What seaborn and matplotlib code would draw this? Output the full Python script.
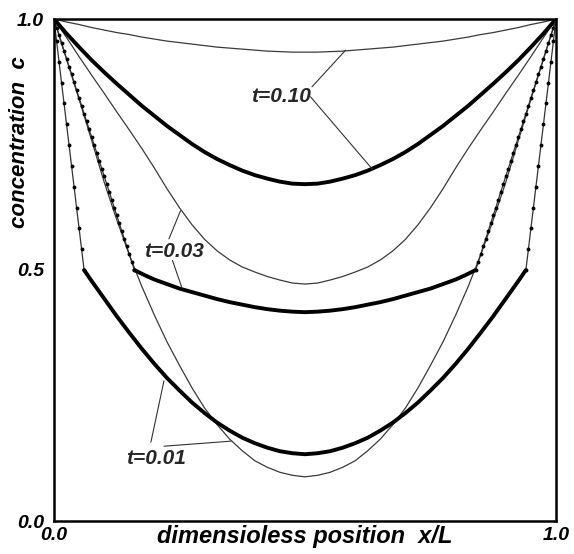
import numpy as np
import matplotlib
matplotlib.use("Agg")
import matplotlib.pyplot as plt
import seaborn as sns

# ---------------- data (left half of symmetric profiles, x/L from 0 to 0.5) -------------
half_x = [0.0, 0.025, 0.05, 0.075, 0.10, 0.125, 0.15, 0.175, 0.20, 0.225, 0.25,
          0.275, 0.30, 0.325, 0.35, 0.375, 0.40, 0.425, 0.45, 0.475, 0.50]

# thin (analytic) curves
thin_t010 = [1.0, 0.994, 0.989, 0.983, 0.978, 0.973, 0.969, 0.964, 0.960, 0.956, 0.953,
             0.950, 0.947, 0.944, 0.942, 0.940, 0.938, 0.936, 0.935, 0.934, 0.934]
thin_t003 = [1.0, 0.963, 0.925, 0.888, 0.852, 0.815, 0.779, 0.742, 0.703, 0.662, 0.624,
             0.590, 0.561, 0.538, 0.520, 0.506, 0.496, 0.487, 0.480, 0.474, 0.472]
thin_t001 = [1.0, 0.920, 0.840, 0.758, 0.675, 0.600, 0.530, 0.467, 0.410, 0.357, 0.310,
             0.265, 0.225, 0.192, 0.163, 0.140, 0.120, 0.107, 0.097, 0.091, 0.088]

# numerical curve t=0.10 (thick)
num_t010 = [1.0, 0.971, 0.944, 0.918, 0.894, 0.871, 0.849, 0.827, 0.807, 0.787, 0.769,
            0.751, 0.735, 0.721, 0.709, 0.698, 0.689, 0.682, 0.676, 0.672, 0.671]

# numerical curve t=0.03 : steep wall part (grid points) and interior part
num_t003_wall_x = [0.0, 0.005, 0.01, 0.015, 0.02, 0.025, 0.03, 0.035, 0.04, 0.045, 0.05,
                   0.055, 0.06, 0.065, 0.07, 0.075, 0.08, 0.085, 0.09, 0.095, 0.10,
                   0.105, 0.11, 0.115, 0.12, 0.125, 0.13, 0.135, 0.14, 0.145, 0.15,
                   0.155, 0.16]
num_t003_wall_c = [1.0, 0.983, 0.968, 0.952, 0.936, 0.921, 0.905, 0.890, 0.874, 0.858, 0.843,
                   0.827, 0.811, 0.796, 0.780, 0.765, 0.749, 0.734, 0.718, 0.702, 0.687,
                   0.671, 0.656, 0.640, 0.624, 0.609, 0.593, 0.578, 0.562, 0.547, 0.531,
                   0.516, 0.500]
num_t003_mid_x = [0.16, 0.18, 0.20, 0.225, 0.25, 0.275, 0.30, 0.325, 0.35, 0.375, 0.40,
                  0.425, 0.45, 0.475, 0.50]
num_t003_mid_c = [0.500, 0.490, 0.481, 0.472, 0.463, 0.456, 0.449, 0.442, 0.436, 0.431,
                  0.426, 0.422, 0.419, 0.417, 0.416]

# numerical curve t=0.01 : steep wall part (grid points) and interior part
num_t001_wall_x = [0.0, 0.005, 0.01, 0.015, 0.02, 0.025, 0.03, 0.035, 0.04, 0.045, 0.05,
                   0.055, 0.06]
num_t001_wall_c = [1.0, 0.957, 0.915, 0.873, 0.832, 0.790, 0.749, 0.707, 0.666, 0.624, 0.583,
                   0.541, 0.500]
num_t001_mid_x = [0.06, 0.075, 0.10, 0.125, 0.15, 0.175, 0.20, 0.225, 0.25, 0.275, 0.30,
                  0.325, 0.35, 0.375, 0.40, 0.425, 0.45, 0.475, 0.50]
num_t001_mid_c = [0.500, 0.478, 0.443, 0.408, 0.375, 0.343, 0.313, 0.285, 0.260, 0.236,
                  0.215, 0.196, 0.180, 0.166, 0.155, 0.146, 0.139, 0.135, 0.133]

y_ticks = [0.0, 0.5, 1.0]
y_tick_labels = ["0.0", "0.5", "1.0"]
x_ticks = [0.0, 1.0]
x_tick_labels = ["0.0", "1.0"]


def full_profile(xs, cs):
    """Symmetric profile: left half as read, right half is its mirror image."""
    x = np.asarray(xs, float)
    c = np.asarray(cs, float)
    return np.concatenate([x, 1.0 - x[::-1][1:]]), np.concatenate([c, c[::-1][1:]])


# ---------------- style ----------------
sns.set_style("white")
plt.rcParams["font.family"] = ["Liberation Sans", "DejaVu Sans"]
plt.rcParams["font.weight"] = "bold"
plt.rcParams["font.style"] = "italic"

fig = plt.figure(figsize=(5.74, 5.54), dpi=100)
ax = fig.add_axes([54 / 574, 33 / 554, 502 / 574, 502 / 554])

THIN = dict(color="#3a3a3a", linewidth=0.9)
THICK = dict(color="black", linewidth=2.8)

# thin analytic curves
for ys in (thin_t010, thin_t003, thin_t001):
    fx, fc = full_profile(half_x, ys)
    sns.lineplot(x=fx, y=fc, ax=ax, sort=False, estimator=None, **THIN)

# numerical t=0.10 (thick)
fx, fc = full_profile(half_x, num_t010)
sns.lineplot(x=fx, y=fc, ax=ax, sort=False, estimator=None, **THICK)

# numerical t=0.03 and t=0.01: thick interior + beaded wall parts
for mx, mc, wx, wc in ((num_t003_mid_x, num_t003_mid_c, num_t003_wall_x, num_t003_wall_c),
                       (num_t001_mid_x, num_t001_mid_c, num_t001_wall_x, num_t001_wall_c)):
    fx, fc = full_profile(mx, mc)
    sns.lineplot(x=fx, y=fc, ax=ax, sort=False, estimator=None, **THICK)
    for side_x in (np.asarray(wx), 1.0 - np.asarray(wx)):
        sns.lineplot(x=side_x, y=wc, ax=ax, sort=False, estimator=None,
                     color="#333333", linewidth=0.9, marker="o", markersize=2.8,
                     markeredgewidth=0, markerfacecolor="black")

# labels with leader lines
LEAD = dict(arrowstyle="-", color="#333333", linewidth=0.8, shrinkA=0, shrinkB=0)
TXT = dict(ha="center", va="center", fontsize=15, fontweight="bold", fontstyle="italic")

ax.text(0.452, 0.846, "t=0.10", **TXT)
ax.annotate("", xy=(0.581, 0.938), xytext=(0.514, 0.865), arrowprops=LEAD)
ax.annotate("", xy=(0.634, 0.701), xytext=(0.511, 0.845), arrowprops=LEAD)

ax.text(0.239, 0.537, "t=0.03", **TXT)
ax.annotate("", xy=(0.252, 0.618), xytext=(0.229, 0.562), arrowprops=LEAD)
ax.annotate("", xy=(0.254, 0.467), xytext=(0.236, 0.519), arrowprops=LEAD)

ax.text(0.204, 0.125, "t=0.01", **TXT)
ax.annotate("", xy=(0.219, 0.279), xytext=(0.193, 0.157), arrowprops=LEAD)
ax.annotate("", xy=(0.352, 0.159), xytext=(0.219, 0.149), arrowprops=LEAD)

# axes
ax.set_xlim(0, 1)
ax.set_ylim(0, 1)
ax.set_yticks(y_ticks)
ax.set_yticklabels(y_tick_labels)
ax.set_xticks(x_ticks)
ax.set_xticklabels(x_tick_labels)
ax.tick_params(axis="both", direction="in", length=7, width=1.2, color="black",
               labelsize=14, labelcolor="black")
ax.tick_params(axis="y", pad=7)
ax.tick_params(axis="x", pad=4)
for lab in ax.get_xticklabels() + ax.get_yticklabels():
    lab.set_fontweight("bold")
    lab.set_fontstyle("italic")
for sp in ax.spines.values():
    sp.set_visible(True)
    sp.set_color("black")
    sp.set_linewidth(1.8)

ax.set_xlabel("dimensioless position  x/L", fontsize=17, fontweight="bold",
              fontstyle="italic", color="black")
ax.xaxis.set_label_coords(0.5, -0.008)
ax.set_ylabel("concentration  c", fontsize=16, fontweight="bold",
              fontstyle="italic", color="black", va="center")
ax.yaxis.set_label_coords(-0.068, 0.755)

fig.savefig("out.png", dpi=100)
